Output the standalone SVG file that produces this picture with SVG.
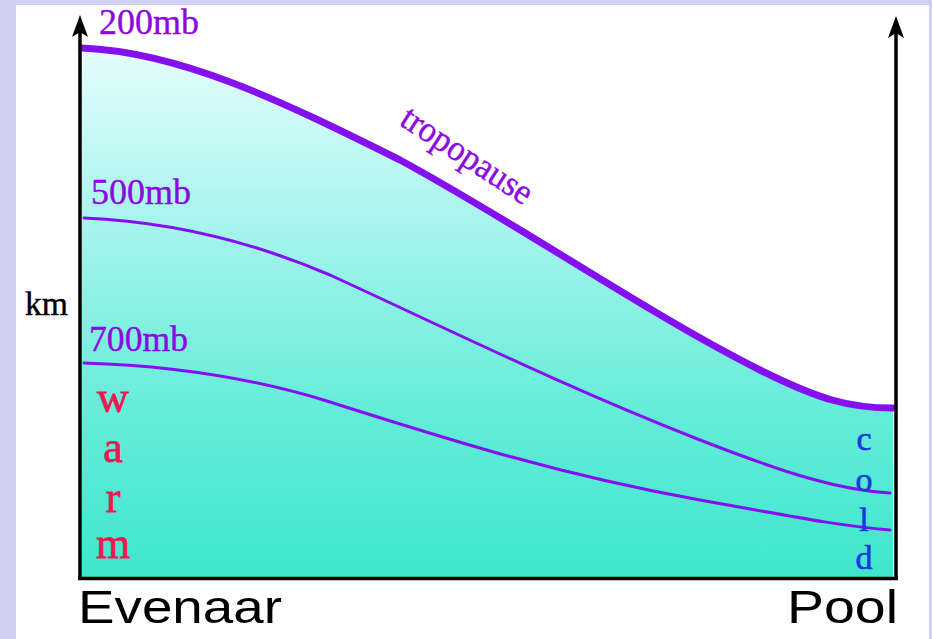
<svg xmlns="http://www.w3.org/2000/svg" width="932" height="639" viewBox="0 0 932 639">
<defs>
<linearGradient id="sea" x1="0" y1="0" x2="0" y2="1" gradientUnits="objectBoundingBox">
<stop offset="0" stop-color="#e4fdfd"/>
<stop offset="0.35" stop-color="#a4f4ec"/>
<stop offset="0.7" stop-color="#62ecd8"/>
<stop offset="1" stop-color="#3ee6cc"/>
</linearGradient>
</defs>
<style>
.iso{fill:none;stroke:#8410f0;stroke-width:3;stroke-linecap:round}
.trop{fill:none;stroke:#8410f0;stroke-width:7;stroke-linecap:round}
.lbl{font-family:"Liberation Serif","Times New Roman",serif;font-size:36px;fill:#8a0ae0;stroke:#8a0ae0;stroke-width:0.4}
.warm{font-family:"Liberation Serif","Times New Roman",serif;font-size:44px;fill:#ee1850;stroke:#ee1850;stroke-width:0.8;text-anchor:middle}
.cold{font-family:"Liberation Serif","Times New Roman",serif;font-size:34px;fill:#1838e0;stroke:#1838e0;stroke-width:0.6;text-anchor:middle}
.big{font-family:"Liberation Sans",Arial,sans-serif;font-size:46px;fill:#000}
.head{fill:#000}
</style>
<rect x="0" y="0" width="932" height="639" fill="#d0d0f2"/>
<rect x="16" y="5" width="913" height="634" fill="#ffffff"/>
<path d="M82,48 C180,52 280,100 400,160 C520,225 650,315 760,370 C820,400 850,408 893,408 L893,578 L82,578 Z" fill="url(#sea)"/>
<g id="lines">
<path id="p500" class="iso" d="M84,218 C180,222 260,245 330,275 C450,330 560,385 700,440 C790,475 840,490 890,493"/>
<path id="p700" class="iso" d="M84,363 C180,366 260,380 330,402 C450,440 560,475 700,500 C790,516 840,526 890,530"/>
<path id="trop" class="trop" d="M82,48 C180,52 280,100 400,160 C520,225 650,315 760,370 C820,400 850,408 893,408"/>
</g>
<g id="axes">
<g stroke="#000" stroke-width="3.5" fill="none">
<line x1="80" y1="580" x2="80" y2="30"/>
<line x1="896" y1="580" x2="896" y2="30"/>
<line x1="78" y1="578.5" x2="898" y2="578.5"/>
</g>
<path class="head" d="M80,15 L88,37 L80,32 L72,37 Z"/>
<path class="head" d="M896,16 L904,38 L896,33 L888,38 Z"/>
</g>
<g id="labels">
<text class="lbl" x="99" y="34" textLength="100" lengthAdjust="spacingAndGlyphs">200mb</text>
<text class="lbl" x="91" y="204" textLength="100" lengthAdjust="spacingAndGlyphs">500mb</text>
<text class="lbl" x="89" y="351" textLength="99" lengthAdjust="spacingAndGlyphs">700mb</text>
<text class="lbl" transform="translate(398,124) rotate(33)" font-size="35" textLength="150" lengthAdjust="spacingAndGlyphs">tropopause</text>
<text x="25" y="315" font-family="Liberation Serif,serif" font-size="34" fill="#000" stroke="#000" stroke-width="0.4" textLength="43" lengthAdjust="spacingAndGlyphs">km</text>
</g>
<g id="warm">
<text class="warm" x="113" y="412">w</text>
<text class="warm" x="113" y="462">a</text>
<text class="warm" x="113" y="512">r</text>
<text class="warm" x="113" y="558">m</text>
</g>
<g id="cold">
<text class="cold" x="864" y="450">c</text>
<text class="cold" x="864" y="491">o</text>
<text class="cold" x="864" y="531">l</text>
<text class="cold" x="864" y="569">d</text>
</g>
<text class="big" x="78" y="623" textLength="204" lengthAdjust="spacingAndGlyphs">Evenaar</text>
<text class="big" x="787" y="623" textLength="111" lengthAdjust="spacingAndGlyphs">Pool</text>
</svg>
